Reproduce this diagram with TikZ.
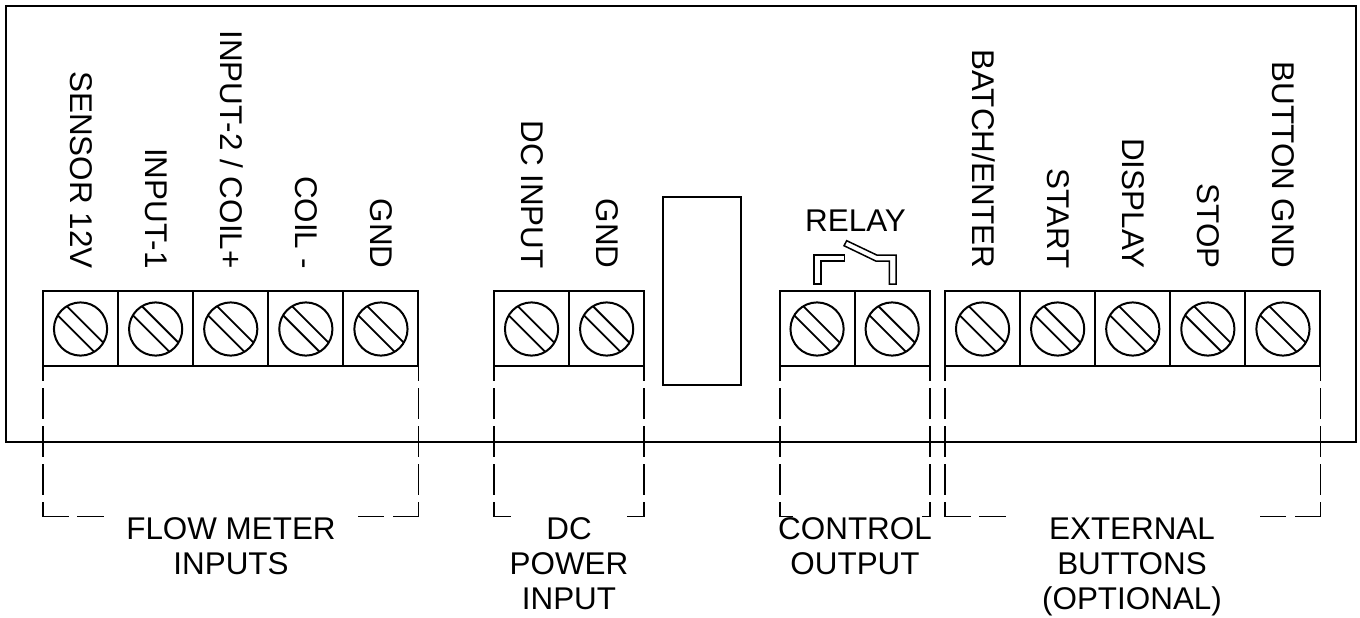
\documentclass[tikz,border=0pt]{standalone}
\usepackage{fontspec}
\setmainfont{Liberation Sans}
\usetikzlibrary{positioning}
\usetikzlibrary{calc}
\tikzset{
  panel/.style={draw=black,line width=1pt},
  cell/.style={rectangle,draw=black,line width=1pt,minimum size=37.5pt,inner sep=0pt,outer sep=0pt},
  screw/.style={circle,draw=black,line width=1pt,minimum size=26.6pt,inner sep=0pt,outer sep=0pt},
  slot/.style={black,line width=.9pt},
  wire leg/.style={black,line width=.95pt,dash pattern=on 15.5pt off 3.5pt,dash phase=8pt},
  wire foot/.style={black,line width=.95pt,line cap=rect,dash pattern=on #1},
  contact/.style={draw=black,line width=.75pt,line join=miter},
  pin label/.style={font=\fontsize{15.7}{18}\selectfont,rotate=-90,anchor=east,inner sep=0pt,text height=11.5pt,text depth=0pt},
  group label/.style={font=\fontsize{15.7}{17.5}\selectfont,align=center,anchor=north,inner sep=0pt},
}
\newcommand{\termblock}[3]{
    \foreach \i in {1,...,#3}{
        \pgfmathsetmacro{\cx}{#2+(\i-.5)*75.1}
        \node[cell] (#1\i) at (\cx,328.5) {};
        \node[screw] (#1s\i) at (\cx,329) {};
        \draw[slot] (#1s\i.121) -- (#1s\i.-31);
        \draw[slot] (#1s\i.149) -- (#1s\i.-59);
    }
}
\newcommand{\bracketend}[5]{
    \coordinate (#1c) at ($(#2.south #3)!1!(#2.south #3 |- 0,516.5)$);
    \coordinate (#1e) at ($(#1c)+(#4,0)$);
    \draw[wire leg] (#2.south #3) -- (#1c);
    \draw[wire foot=#5] (#1c) -- (#1e);
}
\begin{document}
\begin{tikzpicture}[x=.5pt,y=-.5pt]
    \useasboundingbox (0,0) rectangle (1360,617);
    \coordinate (nw) at (5.5,5.5);
    \coordinate (se) at (1355.5,441.5);
    \draw[panel] (nw) rectangle (se);

    \termblock{flow}{43}{5}
    \termblock{power}{494}{2}
    \termblock{relay}{779.5}{2}
    \termblock{btn}{945}{5}

    \node[panel,rectangle,minimum width=39pt,minimum height=94pt,inner sep=0pt,outer sep=0pt] (module) at (702,291) {};

    % labels above the terminals
    \foreach \c/\t in {flow1/{SENSOR 12V},flow2/{INPUT-1},flow3/{INPUT-2 / COIL+},flow4/{COIL -},flow5/{GND},
        power1/{DC INPUT},power2/{GND},
        btn1/{BATCH/ENTER},btn2/{START},btn3/{DISPLAY},btn4/{STOP},btn5/{BUTTON GND}}{
        \node[pin label] (\c t) at ($(\c.center |- 0,269)+(1.5,0)$) {\t};
    }

    \node[font=\fontsize{15.7}{18}\selectfont,inner sep=0pt,anchor=base] (relayt) at (855.5,231) {RELAY};
    \draw[contact] (814,284) -- (814,255) -- (844.7,255) -- (844.7,261) -- (821,261) -- (821,284) -- cycle;
    \draw[contact] (889.3,284) -- (889.3,261) -- (875.7,261) -- (844,245.7) -- (846.7,240.7)
        -- (876.7,255) -- (896,255) -- (896,284) -- cycle;

    % dashed brackets
    \bracketend{fl}{flow1}{west}{61}{12.5pt off 5pt}
    \bracketend{fr}{flow5}{east}{-61}{12.5pt off 5pt}
    \bracketend{pl}{power1}{west}{16}{3.9pt off 1.2pt}
    \bracketend{pr}{power2}{east}{-16}{3.9pt off 1.2pt}
    \bracketend{rl}{relay1}{west}{12}{6pt off 1pt}
    \bracketend{rr}{relay2}{east}{-7}{4pt off 1pt}
    \bracketend{bl}{btn1}{west}{61}{12.5pt off 5pt}
    \bracketend{br}{btn5}{east}{-61}{12.5pt off 5pt}

    \node[group label] (flowg) at (231,517) {FLOW METER\\INPUTS};
    \node[group label] (powerg) at (569,517) {DC\\POWER\\INPUT};
    \node[group label] (relayg) at (855,517) {CONTROL\\OUTPUT};
    \node[group label] (btng) at (1132,517) {EXTERNAL\\BUTTONS\\(OPTIONAL)};
\end{tikzpicture}
\end{document}
